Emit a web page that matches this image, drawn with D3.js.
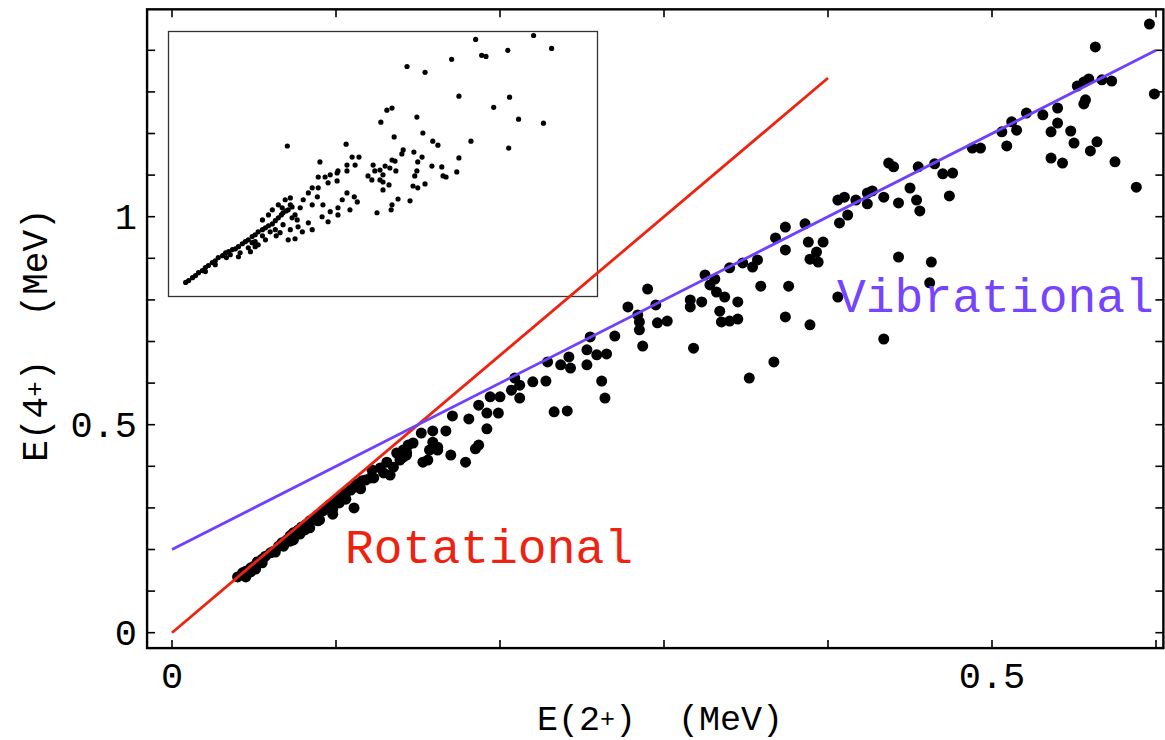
<!DOCTYPE html>
<html>
<head>
<meta charset="utf-8">
<script src="https://cdn.jsdelivr.net/npm/d3@7"></script>
<style>
  html, body { margin: 0; padding: 0; background: #fff; }
  svg { display: block; }
  text { font-family: "Liberation Mono", "DejaVu Sans Mono", monospace; white-space: pre; }
</style>
</head>
<body>
<svg id="chart" width="1165" height="740"></svg>
<script>
// ---- Main scatter: E(2+) and E(4+) in MeV ----
const e2Values = [
0.596,0.563,0.599,0.552,0.556,0.559,0.567,0.573,0.557,0.556,0.540,0.531,0.521,0.540,0.536,0.548,0.550,0.564,0.560,0.575,0.588,0.536,0.543,
0.512,0.515,0.506,0.509,0.488,0.493,0.465,0.455,0.470,0.476,0.474,0.450,0.454,0.456,0.443,0.434,0.437,0.440,
0.406,0.410,0.417,0.424,0.427,0.424,0.412,0.407,0.374,0.386,0.368,0.388,0.397,0.374,0.393,0.389,0.394,
0.357,0.348,0.340,0.354,0.359,0.376,0.406,0.443,0.463,0.462,0.389,0.434,0.374,0.367,0.352,
0.325,0.331,0.328,0.332,0.337,0.345,0.316,0.316,0.323,0.334,0.335,0.340,0.345,
0.290,0.278,0.284,0.285,0.285,0.295,0.296,0.302,0.287,0.318,0.270,0.255,0.253,0.259,0.265,0.253,0.242,0.237,0.243,0.229,
0.262,0.264,0.228,0.220,0.209,0.212,0.207,0.212,0.200,0.194,0.187,0.233,0.241,0.199,0.192,0.192,0.181,0.171,
0.185,0.187,0.179,0.170,0.162,0.153,0.152,0.159,0.159,0.167,0.141,0.143,0.162,0.157,0.156,
0.123,0.122,0.129,0.135,0.139,0.143,0.144,0.147,0.131,0.137,0.127,0.141,0.121,0.133,
0.084,0.098,0.111,0.045,0.051,0.068,0.078,0.090,0.102,0.074,
0.040,0.043,0.045,0.048,0.050,0.052,0.055,0.057,0.060,0.062,0.065,0.067,0.070,0.072,0.074,0.077,0.079,
0.082,0.084,0.087,0.089,0.092,0.094,0.096,0.099,0.101,0.104,0.106,0.109,0.111,0.113,0.116,0.118,
0.048,0.055,0.063,0.072,0.081,0.089,0.098,0.106,0.115
];
const e4Values = [
1.463,1.408,1.295,1.314,1.324,1.331,1.329,1.326,1.281,1.271,1.261,1.245,1.249,1.225,1.204,1.206,1.177,1.180,1.158,1.132,1.071,1.141,1.129,
1.228,1.208,1.204,1.170,1.165,1.165,1.127,1.120,1.103,1.105,1.050,1.069,1.040,1.014,1.033,1.047,1.129,1.120,
1.040,1.047,1.040,1.057,1.062,1.031,1.004,0.985,0.975,0.983,0.949,0.939,0.939,0.920,0.915,0.898,0.891,
0.896,0.889,0.877,0.879,0.833,0.833,0.807,0.903,0.891,0.841,0.740,0.706,0.759,0.651,0.612,
0.860,0.850,0.836,0.819,0.807,0.795,0.800,0.783,0.795,0.773,0.747,0.749,0.754,
0.826,0.783,0.764,0.747,0.728,0.788,0.745,0.749,0.689,0.684,0.713,0.711,0.680,0.668,0.670,0.644,0.663,0.644,0.636,0.651,
0.605,0.564,0.605,0.603,0.612,0.595,0.583,0.564,0.567,0.567,0.547,0.531,0.533,0.528,0.528,0.490,0.514,0.521,
0.442,0.451,0.410,0.427,0.439,0.410,0.480,0.485,0.458,0.485,0.439,0.427,0.446,0.439,0.415,
0.372,0.391,0.384,0.398,0.415,0.434,0.451,0.456,0.410,0.432,0.396,0.422,0.372,0.379,
0.252,0.285,0.300,0.134,0.153,0.208,0.237,0.271,0.312,0.223,
0.134,0.144,0.148,0.156,0.160,0.170,0.177,0.184,0.192,0.196,0.208,0.216,0.223,0.233,0.240,0.247,0.254,
0.261,0.269,0.276,0.283,0.293,0.300,0.307,0.314,0.321,0.329,0.336,0.343,0.350,0.358,0.365,0.367,
0.146,0.168,0.194,0.220,0.247,0.269,0.297,0.321,0.346
];

// ---- Reference lines ----
const rotationalE2 = [0, 0.4];      // E(4+) = 10/3 E(2+)
const rotationalE4 = [0, 1.3333];
const vibrationalE2 = [0, 0.6];     // E(4+) = 2 E(2+) + 0.2
const vibrationalE4 = [0.2, 1.4];

// ---- Tick values / labels ----
const xTicks = [0, 0.1, 0.2, 0.3, 0.4, 0.5, 0.6];
const xTickLabels = ["0", "", "", "", "", "0.5", ""];
const yTicks = [0, 0.1, 0.2, 0.3, 0.4, 0.5, 0.6, 0.7, 0.8, 0.9, 1.0, 1.1, 1.2, 1.3, 1.4];
const yTickLabels = ["0", "", "", "", "", "0.5", "", "", "", "", "1", "", "", "", ""];

// ---- Inset scatter (relative units, no axes shown) ----
const insetX = [
0.040,0.047,0.056,0.063,0.070,0.079,0.086,0.093,0.102,0.109,0.116,0.126,0.133,0.140,0.149,0.156,0.163,0.172,0.179,0.186,0.195,0.202,0.209,0.219,0.226,0.233,0.242,0.249,0.256,0.263,0.267,0.274,0.279,0.288,
0.195,0.202,0.163,0.191,0.202,0.249,0.260,0.279,0.295,0.144,0.219,0.237,
0.265,0.284,0.288,0.300,0.302,0.312,0.326,0.335,0.307,0.314,0.326,0.335,0.347,0.349,0.353,0.349,0.365,0.372,0.377,0.393,0.277,
0.358,0.372,0.335,0.360,0.377,0.395,0.395,0.405,0.416,0.433,0.440,0.423,0.416,0.428,0.444,0.435,0.395,0.416,0.393,0.414,
0.477,0.465,0.474,0.481,0.493,0.493,0.500,0.505,0.516,0.514,0.500,0.486,0.521,0.519,0.535,0.563,0.530,0.574,0.579,0.570,0.581,0.598,
0.614,0.637,0.640,0.647,0.672,0.677,0.591,0.581,0.572,0.547,0.544,0.528,0.526,0.593,0.616,0.628,0.705,0.793,
0.495,0.509,0.521,0.579,0.677,0.795,0.758,0.816,0.874,0.556,0.598,0.660,0.716,0.730,0.740,0.791,0.851,0.893,0.521,0.500,
0.219,0.233,0.242,0.256,0.272,0.284,0.267,0.284,0.226,0.209,0.186,0.167,0.135,0.109,0.086,0.251,0.295
];
const insetY = [
0.053,0.060,0.071,0.079,0.090,0.098,0.109,0.117,0.128,0.135,0.147,0.154,0.165,0.169,0.177,0.180,0.188,0.199,0.207,0.214,0.226,0.233,0.244,0.252,0.259,0.267,0.274,0.286,0.297,0.308,0.316,0.323,0.327,0.338,
0.203,0.207,0.150,0.169,0.188,0.252,0.241,0.214,0.218,0.158,0.229,0.244,
0.335,0.372,0.297,0.289,0.263,0.244,0.278,0.252,0.335,0.365,0.391,0.410,0.376,0.410,0.508,0.451,0.451,0.429,0.459,0.466,0.568,
0.301,0.282,0.346,0.346,0.320,0.308,0.335,0.365,0.391,0.376,0.357,0.327,0.496,0.526,0.526,0.496,0.474,0.474,0.436,0.575,
0.496,0.455,0.440,0.474,0.477,0.440,0.459,0.492,0.485,0.421,0.402,0.316,0.346,0.327,0.368,0.361,0.474,0.455,0.474,0.417,0.410,0.425,
0.492,0.489,0.455,0.451,0.470,0.523,0.526,0.508,0.545,0.553,0.538,0.511,0.602,0.617,0.586,0.571,0.586,0.560,
0.658,0.703,0.711,0.677,0.756,0.752,0.714,0.669,0.654,0.868,0.846,0.895,0.970,0.910,0.906,0.929,0.985,0.936,0.515,0.432,
0.289,0.308,0.327,0.346,0.365,0.346,0.271,0.252,0.214,0.195,0.184,0.165,0.147,0.120,0.094,0.229,0.308
];

// ================= drawing =================
const svg = d3.select("#chart");

const x = d3.scaleLinear().domain([0, 0.6]).range([172, 1156]);
const y = d3.scaleLinear().domain([0, 1.4]).range([632.7, 50.3]);

// plot frame extents expressed in data units
const xLo = -0.0152, xHi = 0.6045, yLo = -0.037, yHi = 1.4985;
const fx0 = x(xLo), fx1 = x(xHi), fy0 = y(yLo), fy1 = y(yHi);

// ticks (inward, on all four frame sides)
const tickLen = 8;
const tg = svg.append("g").attr("stroke", "#000").attr("stroke-width", 1.6);
xTicks.forEach(v => {
  tg.append("line").attr("x1", x(v)).attr("x2", x(v)).attr("y1", fy0).attr("y2", fy0 - tickLen);
  tg.append("line").attr("x1", x(v)).attr("x2", x(v)).attr("y1", fy1).attr("y2", fy1 + tickLen);
});
yTicks.forEach(v => {
  tg.append("line").attr("x1", fx0).attr("x2", fx0 + tickLen).attr("y1", y(v)).attr("y2", y(v));
  tg.append("line").attr("x1", fx1).attr("x2", fx1 - tickLen).attr("y1", y(v)).attr("y2", y(v));
});

// frame
svg.append("rect")
  .attr("x", fx0).attr("y", fy1)
  .attr("width", fx1 - fx0).attr("height", fy0 - fy1)
  .attr("fill", "none").attr("stroke", "#000").attr("stroke-width", 2.4);

// tick labels
svg.append("g").selectAll("text").data(xTicks.map((v, i) => [v, xTickLabels[i]]).filter(d => d[1]))
  .join("text")
  .attr("x", d => x(d[0])).attr("y", 688)
  .attr("text-anchor", "middle").attr("font-size", 37).attr("fill", "#000")
  .text(d => d[1]);
svg.append("g").selectAll("text").data(yTicks.map((v, i) => [v, yTickLabels[i]]).filter(d => d[1]))
  .join("text")
  .attr("x", 137).attr("y", d => y(d[0]) + 12)
  .attr("text-anchor", "end").attr("font-size", 37).attr("fill", "#000")
  .text(d => d[1]);

// axis titles
const xt = svg.append("text").attr("x", 660).attr("y", 730)
  .attr("text-anchor", "middle").attr("font-size", 35).attr("fill", "#000");
xt.append("tspan").text("E(2");
xt.append("tspan").attr("font-size", 25).attr("dy", -3).text("+");
xt.append("tspan").attr("dy", 3).text(")  (MeV)");

const yt = svg.append("text").attr("transform", "translate(47,335) rotate(-90)")
  .attr("text-anchor", "middle").attr("font-size", 36).attr("fill", "#000");
yt.append("tspan").text("E(4");
yt.append("tspan").attr("font-size", 26).attr("dy", -4).text("+");
yt.append("tspan").attr("dy", 4).text(")  (MeV)");

// main dots
const pts = e2Values.map((v, i) => [v, e4Values[i]]);
svg.append("g").selectAll("circle").data(pts).join("circle")
  .attr("cx", d => x(d[0])).attr("cy", d => y(d[1])).attr("r", 5.5).attr("fill", "#000");

// inset
const ix = d3.scaleLinear().domain([0, 1]).range([168.5, 597.5]);
const iy = d3.scaleLinear().domain([0, 1]).range([296.5, 31.5]);
svg.append("rect").attr("x", ix(0)).attr("y", iy(1))
  .attr("width", ix(1) - ix(0)).attr("height", iy(0) - iy(1))
  .attr("fill", "none").attr("stroke", "#333").attr("stroke-width", 1.3);
svg.append("g").selectAll("circle").data(insetX.map((v, i) => [v, insetY[i]])).join("circle")
  .attr("cx", d => ix(d[0])).attr("cy", d => iy(d[1])).attr("r", 2.6).attr("fill", "#000");

// reference lines
const line = d3.line().x(d => x(d[0])).y(d => y(d[1]));
svg.append("path").datum(rotationalE2.map((v, i) => [v, rotationalE4[i]]))
  .attr("d", line).attr("stroke", "#ee2211").attr("stroke-width", 2.8).attr("fill", "none");
svg.append("path").datum(vibrationalE2.map((v, i) => [v, vibrationalE4[i]]))
  .attr("d", line).attr("stroke", "#7040ff").attr("stroke-width", 2.8).attr("fill", "none");

// annotations
svg.append("text").attr("x", 345).attr("y", 563).attr("font-size", 48)
  .attr("fill", "#ee2211").text("Rotational");
svg.append("text").attr("x", 837).attr("y", 312).attr("font-size", 48)
  .attr("fill", "#7444ff").text("Vibrational");
</script>
</body>
</html>
